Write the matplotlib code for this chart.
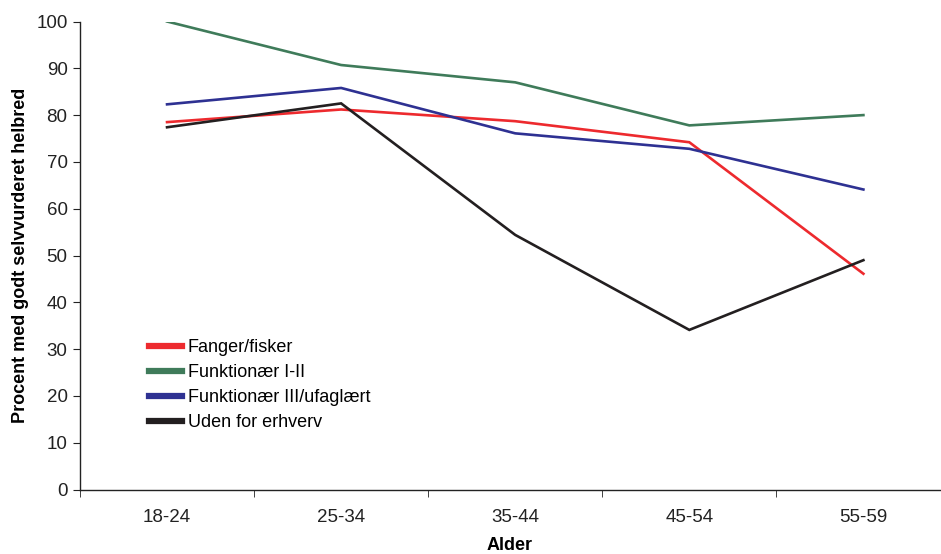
import matplotlib
matplotlib.use("Agg")
import matplotlib.pyplot as plt
import numpy as np

plt.rcParams['font.family'] = ['Liberation Sans', 'DejaVu Sans']

categories = ["18-24", "25-34", "35-44", "45-54", "55-59"]
fanger = [78.5, 81.2, 78.7, 74.2, 46.1]
funk12 = [100.0, 90.7, 87.0, 77.8, 80.0]
funk3 = [82.3, 85.8, 76.1, 72.8, 64.1]
uden = [77.4, 82.5, 54.4, 34.1, 49.0]
series_names = ["Fanger/fisker", "Funktionær I-II", "Funktionær III/ufaglært", "Uden for erhverv"]
colors = ["#ED2A2E", "#3F7B5A", "#2E3192", "#231F20"]
yticks = list(range(0, 101, 10))

fig = plt.figure(figsize=(9.41, 5.54), dpi=100)
ax = fig.add_axes([80/941, 1-489.5/554, 860/941, (489.5-21.5)/554])

x = np.arange(len(categories))
for vals, name, c in zip([fanger, funk12, funk3, uden], series_names, colors):
    ax.plot(x, vals, color=c, lw=1.9, label=name, solid_joinstyle='miter')

ax.set_xlim(-0.5, 4.44)
ax.set_ylim(0, 100)
ax.set_yticks(yticks)
ax.set_xticks(x)
ax.set_xticklabels(categories)
ax.set_xticks(np.arange(-0.5, 4.5, 1.0), minor=True)
ax.tick_params(axis='x', which='major', length=0, pad=14, labelsize=13.5, colors='#222222')
ax.tick_params(axis='x', which='minor', length=5, direction='out', color='#222222')
ax.tick_params(axis='y', length=5, direction='out', labelsize=13.5, pad=4, colors='#222222')

for s in ['top', 'right']:
    ax.spines[s].set_visible(False)
for s in ['left', 'bottom']:
    ax.spines[s].set_color('#222222')
    ax.spines[s].set_linewidth(1.0)

ax.set_ylabel("Procent med godt selvvurderet helbred", fontsize=13, fontweight='bold', labelpad=5)
ax.set_xlabel("Alder", fontsize=13, fontweight='bold', labelpad=8)

leg = ax.legend(loc='upper left', bbox_to_anchor=(149/941, 1-339/554), bbox_transform=fig.transFigure,
                frameon=False, fontsize=13, handlelength=1.85, handletextpad=0.3, labelspacing=0.45,
                borderaxespad=0, borderpad=0)
for h in leg.get_lines():
    h.set_linewidth(4.5)

fig.savefig("out.png", dpi=100)
